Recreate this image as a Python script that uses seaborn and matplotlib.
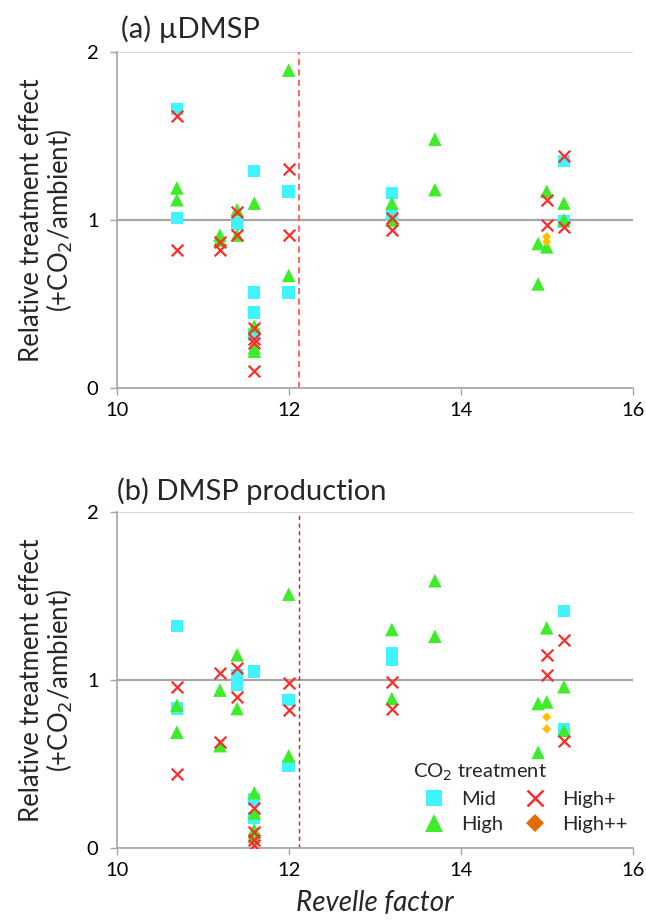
import numpy as np
import pandas as pd
import matplotlib
matplotlib.use("Agg")
import matplotlib.pyplot as plt
from matplotlib.lines import Line2D
import seaborn as sns

sns.set_theme(style="white")
plt.rcParams['font.family'] = ['Lato', 'DejaVu Sans']

# ---------------- data: panel (a) muDMSP ----------------
a_mid_x = [10.7, 10.7, 11.4, 11.6, 11.6, 11.6, 11.6, 12.0, 12.0, 13.2, 13.2, 15.2, 15.2]
a_mid_y = [1.66, 1.01, 0.98, 1.29, 0.57, 0.45, 0.32, 1.17, 0.57, 1.16, 1.03, 1.35, 0.99]
a_high_x = [10.7, 10.7, 11.2, 11.2, 11.4, 11.4, 11.6, 11.6, 11.6, 11.6, 12.0, 12.0,
            13.2, 13.2, 13.7, 13.7, 14.9, 14.9, 15.0, 15.0, 15.2, 15.2]
a_high_y = [1.19, 1.12, 0.91, 0.88, 1.06, 0.91, 1.10, 0.37, 0.24, 0.22, 1.89, 0.67,
            1.10, 1.00, 1.48, 1.18, 0.86, 0.62, 1.17, 0.84, 1.10, 1.00]
a_hp_x = [10.7, 10.7, 11.2, 11.2, 11.4, 11.4, 11.6, 11.6, 11.6, 11.6, 12.0, 12.0,
          13.2, 13.2, 15.0, 15.0, 15.2, 15.2]
a_hp_y = [1.62, 0.82, 0.87, 0.82, 1.05, 0.91, 0.36, 0.29, 0.27, 0.10, 1.30, 0.91,
          1.01, 0.94, 1.12, 0.97, 1.38, 0.96]
a_hpp_x = [15.0, 15.0]
a_hpp_y = [0.90, 0.87]

# ---------------- data: panel (b) DMSP production ----------------
b_mid_x = [10.7, 10.7, 11.4, 11.4, 11.6, 11.6, 11.6, 12.0, 12.0, 13.2, 13.2, 15.2, 15.2]
b_mid_y = [1.32, 0.83, 1.03, 0.97, 1.05, 0.29, 0.18, 0.88, 0.49, 1.16, 1.12, 1.41, 0.71]
b_high_x = [10.7, 10.7, 11.2, 11.2, 11.4, 11.4, 11.6, 11.6, 11.6, 11.6, 12.0, 12.0,
            13.2, 13.2, 13.7, 13.7, 14.9, 14.9, 15.0, 15.0, 15.2, 15.2]
b_high_y = [0.85, 0.69, 0.94, 0.61, 1.15, 0.83, 0.33, 0.21, 0.11, 0.07, 1.51, 0.55,
            1.30, 0.89, 1.59, 1.26, 0.86, 0.57, 1.31, 0.87, 0.96, 0.70]
b_hp_x = [10.7, 10.7, 11.2, 11.2, 11.4, 11.4, 11.6, 11.6, 11.6, 11.6, 12.0, 12.0,
          13.2, 13.2, 15.0, 15.0, 15.2, 15.2]
b_hp_y = [0.96, 0.44, 1.04, 0.63, 1.07, 0.90, 0.24, 0.10, 0.05, 0.02, 0.98, 0.82,
          0.99, 0.83, 1.15, 1.03, 1.24, 0.64]
b_hpp_x = [15.0, 15.0]
b_hpp_y = [0.78, 0.71]

treatments = ["Mid", "High", "High+", "High++"]
x_ticks = [10, 12, 14, 16]
y_ticks = [0, 1, 2]
revelle_threshold = [12.12, 12.12]
titles = ["(a) \u00b5DMSP", "(b) DMSP production"]

# styles
C_MID = "#3FF3FF"
C_HIGH = "#3FEC2A"
C_HP = "#FF2B2B"
C_HPP = "#FFBF00"
C_HPP_LEG = "#E36C09"

fig = plt.figure(figsize=(6.46, 9.22), dpi=100)
ax_a = fig.add_axes([0.1806, 0.5789, 0.7988, 0.3651])
ax_b = fig.add_axes([0.1806, 0.0799, 0.7988, 0.3651])

panels = [
    (ax_a, (a_mid_x, a_mid_y), (a_high_x, a_high_y), (a_hp_x, a_hp_y), (a_hpp_x, a_hpp_y)),
    (ax_b, (b_mid_x, b_mid_y), (b_high_x, b_high_y), (b_hp_x, b_hp_y), (b_hpp_x, b_hpp_y)),
]

for i, (ax, mid, high, hp, hpp) in enumerate(panels):
    # reference lines
    for yv in (0, 2):
        ax.axhline(yv, color="#D0D0D0", lw=1.2, zorder=0)
    ax.axhline(1, color="#A6A6A6", lw=1.6, zorder=1)
    if i == 0:
        ax.axvline(revelle_threshold[i], color="#FF6B6B", lw=1.5, ls=(0, (3, 2)), zorder=1)
    else:
        ax.axvline(revelle_threshold[i], color="#C81E1E", lw=1.0, ls=(0, (3, 2.5)), zorder=1)

    sns.scatterplot(x=mid[0], y=mid[1], ax=ax, marker="s", s=80, color=C_MID,
                    edgecolor="none", zorder=3)
    sns.scatterplot(x=high[0], y=high[1], ax=ax, marker="^", s=95, color=C_HIGH,
                    edgecolor="none", zorder=4)
    sns.scatterplot(x=hp[0], y=hp[1], ax=ax, marker="x", s=70, color=C_HP,
                    linewidth=1.6, zorder=5)
    sns.scatterplot(x=hpp[0], y=hpp[1], ax=ax, marker="D", s=22, color=C_HPP,
                    edgecolor="none", zorder=6)

    ax.set_xlim(10, 16)
    ax.set_ylim(0, 2)
    ax.set_xticks(x_ticks)
    ax.set_yticks(y_ticks)
    ax.set_xticklabels([str(t) for t in x_ticks], fontsize=14.5)
    ax.set_yticklabels([str(t) for t in y_ticks], fontsize=14.5)
    ax.tick_params(axis="both", direction="out", length=5, width=1, color="#A6A6A6",
                   labelcolor="black", bottom=True, left=True)
    ax.tick_params(axis="y", pad=8)
    ax.tick_params(axis="x", pad=5)
    for side in ("top", "right"):
        ax.spines[side].set_visible(False)
    for side in ("left", "bottom"):
        ax.spines[side].set_color("#A6A6A6")
        ax.spines[side].set_linewidth(1.2)
    ax.set_xlabel("")
    ax.set_ylabel("Relative treatment effect\n(+CO$_2$/ambient)", fontsize=18.5,
                  linespacing=1.0)
    ax.yaxis.set_label_coords(-0.081, 0.5)
    ax.set_facecolor("white")

fig.text(121 / 646, 1 - 29 / 922, titles[0], fontsize=21, ha="left", va="center")
fig.text(117 / 646, 1 - 491 / 922, titles[1], fontsize=21, ha="left", va="center")

ax_b.set_xlabel("Revelle factor", fontsize=20, style="italic", labelpad=8)

handles = [
    Line2D([], [], marker="s", ls="none", color=C_MID, markersize=11, markeredgewidth=0),
    Line2D([], [], marker="^", ls="none", color=C_HIGH, markersize=13, markeredgewidth=0),
    Line2D([], [], marker="x", ls="none", color=C_HP, markersize=11, markeredgewidth=1.8),
    Line2D([], [], marker="D", ls="none", color=C_HPP_LEG, markersize=9.5, markeredgewidth=0),
]
leg = ax_b.legend(handles, treatments, ncol=2, frameon=False, title="CO$_2$ treatment",
                  fontsize=14.5, title_fontsize=14.5, loc="lower left",
                  bbox_to_anchor=(0.575, 0.045), handletextpad=0.35, columnspacing=0.6,
                  labelspacing=0.4, borderaxespad=0.0, borderpad=0.0, handlelength=2.0)
leg._legend_box.align = "left"
leg._legend_box.sep = 6

fig.savefig("out.png", dpi=100, facecolor="white")
